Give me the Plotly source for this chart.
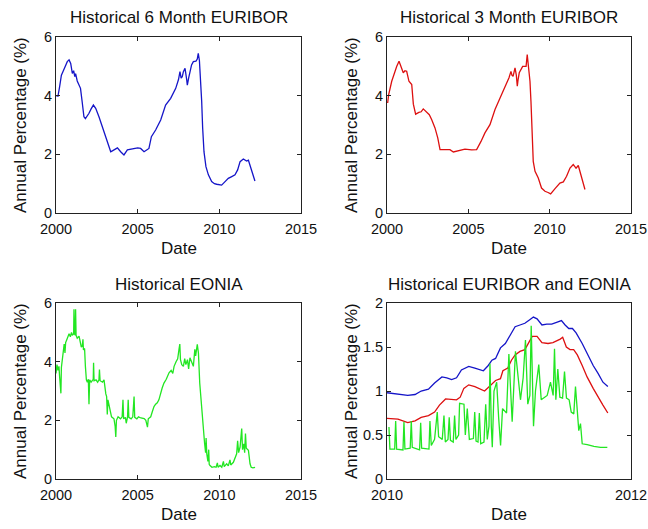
import plotly.graph_objects as go

# ---------------- data ----------------
eur6m_year = [2000.00, 2000.12, 2000.22, 2000.33, 2000.45, 2000.58, 2000.69, 2000.80, 2000.90, 2001.00,
              2001.08, 2001.15, 2001.20, 2001.30, 2001.41, 2001.50, 2001.60, 2001.71, 2001.80, 2001.90,
              2002.02, 2002.15, 2002.29, 2002.43, 2002.53, 2002.63, 2002.80, 2002.94, 2003.05, 2003.14,
              2003.25, 2003.35, 2003.45, 2003.55, 2003.76, 2003.96, 2004.16, 2004.37, 2004.58, 2004.78,
              2005.00, 2005.18, 2005.39, 2005.55, 2005.69, 2005.84, 2006.10, 2006.41, 2006.71, 2007.02,
              2007.33, 2007.50, 2007.59, 2007.66, 2007.73, 2007.80, 2007.90, 2008.00, 2008.04, 2008.12,
              2008.20, 2008.30, 2008.41, 2008.57, 2008.65, 2008.71, 2008.78, 2008.86, 2008.92, 2008.98,
              2009.06, 2009.18, 2009.33, 2009.53, 2009.70, 2009.84, 2010.14, 2010.35, 2010.55, 2010.76,
              2010.96, 2011.12, 2011.27, 2011.47, 2011.60, 2011.67, 2011.78, 2011.90, 2011.98, 2012.18]
eur6m_val = [4.00, 3.98, 4.30, 4.70, 4.85, 5.05, 5.16, 5.22, 5.10, 4.76,
             4.85, 4.65, 4.75, 4.50, 4.36, 4.25, 3.80, 3.28, 3.22, 3.30,
             3.40, 3.55, 3.68, 3.57, 3.45, 3.28, 3.00, 2.77, 2.60, 2.49,
             2.30, 2.09, 2.12, 2.15, 2.22, 2.09, 1.98, 2.15, 2.18, 2.20,
             2.22, 2.20, 2.09, 2.15, 2.20, 2.60, 2.83, 3.17, 3.68, 3.91,
             4.25, 4.55, 4.82, 4.60, 4.65, 4.82, 4.93, 4.55, 4.36, 4.60,
             4.82, 5.05, 5.16, 5.18, 5.25, 5.44, 5.20, 4.48, 3.80, 2.89,
             2.09, 1.58, 1.30, 1.07, 1.00, 0.98, 0.95, 1.07, 1.18, 1.24,
             1.30, 1.47, 1.75, 1.84, 1.78, 1.77, 1.80, 1.60, 1.41, 1.09]

eur3m_year = [2000.04, 2000.10, 2000.29, 2000.49, 2000.60, 2000.74, 2000.90, 2001.00, 2001.10, 2001.21,
              2001.35, 2001.52, 2001.62, 2001.76, 2001.96, 2002.10, 2002.23, 2002.44, 2002.60, 2002.75,
              2002.95, 2003.12, 2003.26, 2003.56, 2003.87, 2004.08, 2004.38, 2004.79, 2005.20, 2005.51,
              2005.78, 2006.02, 2006.33, 2006.64, 2006.95, 2007.25, 2007.50, 2007.62, 2007.68, 2007.75,
              2007.82, 2007.87, 2007.95, 2008.01, 2008.06, 2008.13, 2008.34, 2008.55, 2008.62, 2008.68,
              2008.79, 2008.85, 2008.91, 2008.99, 2009.10, 2009.30, 2009.50, 2009.71, 2009.90, 2010.06,
              2010.33, 2010.63, 2010.84, 2011.04, 2011.25, 2011.45, 2011.55, 2011.62, 2011.76, 2011.97,
              2012.17]
eur3m_val = [3.75, 4.03, 4.49, 4.83, 5.00, 5.17, 4.95, 4.78, 4.85, 4.83,
             4.49, 4.38, 3.71, 3.37, 3.43, 3.45, 3.55, 3.43, 3.35, 3.18,
             2.90, 2.56, 2.16, 2.16, 2.16, 2.08, 2.12, 2.18, 2.15, 2.16,
             2.44, 2.73, 3.01, 3.53, 3.92, 4.27, 4.61, 4.83, 4.70, 4.66,
             4.85, 4.95, 4.70, 4.32, 4.55, 4.78, 5.00, 5.00, 5.40, 5.06,
             4.49, 3.81, 2.79, 1.76, 1.42, 1.19, 0.85, 0.74, 0.70, 0.65,
             0.83, 1.02, 1.06, 1.25, 1.53, 1.65, 1.58, 1.53, 1.62, 1.19,
             0.80]

eonia_year = [2000.00, 2000.06, 2000.12, 2000.18, 2000.22, 2000.27, 2000.30, 2000.33, 2000.38, 2000.45,
              2000.50, 2000.55, 2000.59, 2000.66, 2000.72, 2000.80, 2000.88, 2000.95, 2001.00, 2001.08,
              2001.10, 2001.13, 2001.18, 2001.20, 2001.23, 2001.30, 2001.41, 2001.48, 2001.55, 2001.61,
              2001.65, 2001.68, 2001.75, 2001.80, 2001.86, 2001.92, 2001.98, 2002.02, 2002.06, 2002.15,
              2002.28, 2002.30, 2002.33, 2002.45, 2002.55, 2002.63, 2002.66, 2002.70, 2002.85, 2002.94,
              2002.98, 2003.05, 2003.10, 2003.14, 2003.18, 2003.25, 2003.35, 2003.40, 2003.55, 2003.62,
              2003.66, 2003.70, 2003.80, 2003.95, 2004.05, 2004.10, 2004.14, 2004.25, 2004.30, 2004.38,
              2004.42, 2004.46, 2004.60, 2004.70, 2004.78, 2004.82, 2004.95, 2005.05, 2005.20, 2005.40,
              2005.50, 2005.60, 2005.65, 2005.80, 2005.90, 2006.00, 2006.10, 2006.20, 2006.30, 2006.40,
              2006.50, 2006.61, 2006.75, 2006.92, 2007.05, 2007.15, 2007.23, 2007.35, 2007.45, 2007.53,
              2007.58, 2007.62, 2007.70, 2007.80, 2007.88, 2007.95, 2008.05, 2008.12, 2008.20, 2008.30,
              2008.41, 2008.50, 2008.55, 2008.65, 2008.72, 2008.80, 2008.92, 2009.02, 2009.10, 2009.16,
              2009.19, 2009.23, 2009.30, 2009.35, 2009.38, 2009.43, 2009.55, 2009.70, 2009.80, 2009.88,
              2009.92, 2010.04, 2010.15, 2010.25, 2010.30, 2010.45, 2010.55, 2010.65, 2010.70, 2010.86,
              2010.95, 2011.06, 2011.12, 2011.18, 2011.27, 2011.37, 2011.42, 2011.50, 2011.55, 2011.60,
              2011.65, 2011.78, 2011.88, 2011.95, 2012.05, 2012.19]
eonia_val = [3.60, 3.90, 3.70, 3.84, 3.50, 3.20, 2.92, 3.80, 4.07, 4.20,
             4.60, 4.30, 4.65, 4.75, 4.85, 4.95, 4.85, 5.00, 4.90, 4.95,
             5.79, 4.95, 4.90, 5.79, 4.90, 4.80, 4.87, 4.60, 4.50, 4.53,
             4.76, 4.40, 4.45, 3.84, 3.38, 3.30, 3.40, 2.55, 3.38, 3.30,
             3.40, 3.96, 3.35, 3.38, 3.30, 3.38, 3.73, 3.35, 3.30, 3.38,
             3.15, 2.90, 2.81, 2.20, 2.70, 2.47, 2.24, 2.12, 2.05, 1.80,
             1.43, 2.00, 2.12, 2.05, 2.12, 2.70, 2.05, 2.10, 1.90, 2.12,
             2.70, 2.10, 2.05, 2.12, 2.81, 2.10, 2.05, 2.12, 2.08, 2.06,
             2.00, 1.77, 2.05, 2.12, 2.30, 2.47, 2.55, 2.60, 2.70, 2.95,
             3.10, 3.27, 3.40, 3.62, 3.70, 3.60, 3.84, 4.00, 4.10, 4.42,
             4.60, 4.07, 3.90, 3.84, 4.10, 3.90, 4.07, 3.75, 4.13, 4.00,
             3.84, 4.42, 4.20, 4.59, 4.30, 3.27, 2.35, 1.55, 1.20, 0.90,
             1.40, 0.86, 0.60, 1.00, 0.50, 0.46, 0.40, 0.42, 0.40, 0.55,
             0.40, 0.46, 0.40, 0.60, 0.42, 0.52, 0.45, 0.65, 0.48, 0.57,
             0.70, 0.86, 1.30, 0.90, 1.09, 1.72, 1.00, 1.20, 0.90, 1.55,
             1.05, 0.98, 0.52, 0.40, 0.38, 0.40]

# zoomed panel (2010 onwards)
zoom_euribor_year = [2010.00, 2010.09, 2010.17, 2010.23, 2010.28, 2010.34, 2010.39, 2010.45, 2010.49, 2010.53,
                     2010.57, 2010.61, 2010.67, 2010.72, 2010.79, 2010.83, 2010.86, 2010.89, 2010.93, 2010.97,
                     2011.02, 2011.05, 2011.09, 2011.13, 2011.17, 2011.20, 2011.23, 2011.27, 2011.31, 2011.35,
                     2011.39, 2011.43, 2011.46, 2011.49, 2011.52, 2011.55, 2011.60, 2011.64, 2011.69, 2011.73,
                     2011.77, 2011.81]
zoom_6m_val = [0.98, 0.96, 0.95, 0.96, 1.00, 1.02, 1.09, 1.16, 1.15, 1.13,
               1.15, 1.24, 1.28, 1.26, 1.23, 1.29, 1.35, 1.37, 1.49, 1.54,
               1.66, 1.73, 1.75, 1.77, 1.81, 1.84, 1.82, 1.75, 1.76, 1.76,
               1.78, 1.80, 1.75, 1.71, 1.71, 1.66, 1.54, 1.43, 1.29, 1.20,
               1.10, 1.05]
zoom_3m_year = [2010.00, 2010.09, 2010.17, 2010.23, 2010.28, 2010.34, 2010.39, 2010.43, 2010.48, 2010.53,
                2010.57, 2010.60, 2010.63, 2010.67, 2010.72, 2010.80, 2010.84, 2010.89, 2010.93, 2010.95,
                2010.99, 2011.02, 2011.05, 2011.09, 2011.13, 2011.16, 2011.19, 2011.23, 2011.27, 2011.32,
                2011.36, 2011.42, 2011.44, 2011.47, 2011.50, 2011.53, 2011.56, 2011.60, 2011.64, 2011.69,
                2011.73, 2011.77, 2011.81]
zoom_3m_val = [0.69, 0.68, 0.64, 0.66, 0.70, 0.72, 0.76, 0.84, 0.91, 0.90,
               0.90, 0.93, 1.03, 1.07, 1.05, 1.00, 1.05, 1.12, 1.14, 1.23,
               1.26, 1.35, 1.41, 1.45, 1.47, 1.54, 1.62, 1.62, 1.55, 1.54,
               1.55, 1.59, 1.61, 1.50, 1.47, 1.47, 1.41, 1.29, 1.16, 1.03,
               0.93, 0.84, 0.75]
zoom_eonia_year = [2010.016, 2010.024, 2010.063, 2010.071, 2010.079, 2010.131, 2010.139, 2010.147, 2010.190, 2010.199,
                   2010.207, 2010.267, 2010.276, 2010.284, 2010.344, 2010.352, 2010.363, 2010.390, 2010.412, 2010.423,
                   2010.453, 2010.467, 2010.478, 2010.500, 2010.510, 2010.520, 2010.543, 2010.554, 2010.565, 2010.587,
                   2010.595, 2010.631, 2010.642, 2010.658, 2010.675, 2010.708, 2010.719, 2010.730, 2010.746, 2010.757,
                   2010.768, 2010.795, 2010.809, 2010.822, 2010.836, 2010.844, 2010.855, 2010.863, 2010.877, 2010.899,
                   2010.915, 2010.931, 2010.947, 2010.980, 2010.999, 2011.012, 2011.026, 2011.053, 2011.072, 2011.094,
                   2011.116, 2011.135, 2011.154, 2011.171, 2011.182, 2011.193, 2011.201, 2011.217, 2011.244, 2011.264,
                   2011.285, 2011.313, 2011.340, 2011.362, 2011.373, 2011.384, 2011.400, 2011.417, 2011.439, 2011.455,
                   2011.471, 2011.493, 2011.510, 2011.531, 2011.545, 2011.559, 2011.572, 2011.586, 2011.600, 2011.641,
                   2011.696, 2011.750, 2011.806]
zoom_eonia_val = [0.59, 0.34, 0.34, 0.66, 0.34, 0.33, 0.65, 0.34, 0.35, 0.66,
                  0.36, 0.33, 0.64, 0.35, 0.34, 0.66, 0.38, 0.45, 0.76, 0.48,
                  0.45, 0.72, 0.42, 0.45, 0.70, 0.44, 0.42, 0.72, 0.45, 0.50,
                  0.86, 0.85, 0.50, 0.80, 0.45, 0.46, 0.76, 0.43, 0.42, 0.75,
                  0.40, 0.42, 0.85, 0.45, 0.60, 1.31, 0.60, 0.36, 1.00, 1.10,
                  0.70, 0.38, 0.80, 0.75, 1.42, 0.95, 0.65, 1.45, 1.20, 0.90,
                  1.15, 1.58, 0.85, 0.95, 1.74, 0.90, 0.60, 1.00, 1.30, 0.90,
                  0.92, 0.95, 1.10, 0.95, 1.48, 0.90, 1.25, 0.93, 0.92, 1.22,
                  0.92, 0.90, 0.76, 0.74, 1.05, 0.72, 0.55, 0.63, 0.40, 0.39,
                  0.37, 0.36, 0.36]

titles = ["Historical 6 Month EURIBOR", "Historical 3 Month EURIBOR",
          "Historical EONIA", "Historical EURIBOR and EONIA"]
x_label = "Date"
y_label = "Annual Percentage (%)"

BLUE = "#1515c8"
RED = "#dd1010"
GREEN = "#22e622"
FONT = "Liberation Sans, Arial, sans-serif"

W, H = 648, 529

def px(x):
    return x / W

def py(y):
    return 1 - y / H

# panel boxes in pixels: (left, right, top, bottom)
boxes = [(56, 301, 37, 213), (387, 631, 37, 213), (56, 301, 303, 479), (387, 631, 303, 479)]

fig = go.Figure()
fig.add_trace(go.Scatter(x=eur6m_year, y=eur6m_val, mode="lines", line=dict(color=BLUE, width=1.3),
                         xaxis="x", yaxis="y"))
fig.add_trace(go.Scatter(x=eur3m_year, y=eur3m_val, mode="lines", line=dict(color=RED, width=1.3),
                         xaxis="x2", yaxis="y2"))
fig.add_trace(go.Scatter(x=eonia_year, y=eonia_val, mode="lines", line=dict(color=GREEN, width=1.3),
                         xaxis="x3", yaxis="y3"))
fig.add_trace(go.Scatter(x=zoom_euribor_year, y=zoom_6m_val, mode="lines", line=dict(color=BLUE, width=1.3),
                         xaxis="x4", yaxis="y4"))
fig.add_trace(go.Scatter(x=zoom_3m_year, y=zoom_3m_val, mode="lines", line=dict(color=RED, width=1.3),
                         xaxis="x4", yaxis="y4"))
fig.add_trace(go.Scatter(x=zoom_eonia_year, y=zoom_eonia_val, mode="lines", line=dict(color=GREEN, width=1.3),
                         xaxis="x4", yaxis="y4"))

axis_common = dict(showline=True, linecolor="#222222", linewidth=1, mirror="ticks",
                   ticks="inside", ticklen=4, tickcolor="#222222", showgrid=False, zeroline=False,
                   automargin=False, ticklabeloverflow="allow",
                   tickfont=dict(family=FONT, size=14.5, color="#111111"), fixedrange=True)

layout = dict(width=W, height=H, margin=dict(l=0, r=0, t=0, b=0, autoexpand=False),
              paper_bgcolor="white", plot_bgcolor="white", showlegend=False,
              font=dict(family=FONT, color="#111111"))

annotations = []
for i, (l, r, t, b) in enumerate(boxes):
    n = "" if i == 0 else str(i + 1)
    if i < 3:
        xa = dict(range=[2000, 2015], tickvals=[2000, 2005, 2010, 2015])
        ya = dict(range=[0, 6], tickvals=[0, 2, 4, 6])
    else:
        xa = dict(range=[2010, 2012], tickvals=[2010, 2012])
        ya = dict(range=[0, 2], tickvals=[0, 0.5, 1, 1.5, 2], ticktext=["0", "0.5", "1", "1.5", "2"])
    layout["xaxis" + n] = dict(axis_common, domain=[px(l), px(r)], anchor="y" + n,
                               ticklabelstandoff=3, **xa)
    layout["yaxis" + n] = dict(axis_common, domain=[py(b), py(t)], anchor="x" + n, **ya)
    cx = (l + r) / 2
    annotations.append(dict(text=titles[i], x=px(cx), y=py(t - 19), xref="paper", yref="paper",
                            showarrow=False, font=dict(family=FONT, size=17, color="#111111"),
                            xanchor="center", yanchor="middle"))
    annotations.append(dict(text=x_label, x=px(cx), y=py(b + 35), xref="paper", yref="paper",
                            showarrow=False, font=dict(family=FONT, size=17, color="#111111"),
                            xanchor="center", yanchor="middle"))
    annotations.append(dict(text=y_label, x=px(l - 36), y=py((t + b) / 2), xref="paper", yref="paper",
                            showarrow=False, textangle=-90, font=dict(family=FONT, size=17, color="#111111"),
                            xanchor="center", yanchor="middle"))

layout["annotations"] = annotations
fig.update_layout(**layout)
fig.write_html("out.html", config={"displayModeBar": False},
               post_script="document.body.style.margin='0px';document.body.style.overflow='hidden';")
